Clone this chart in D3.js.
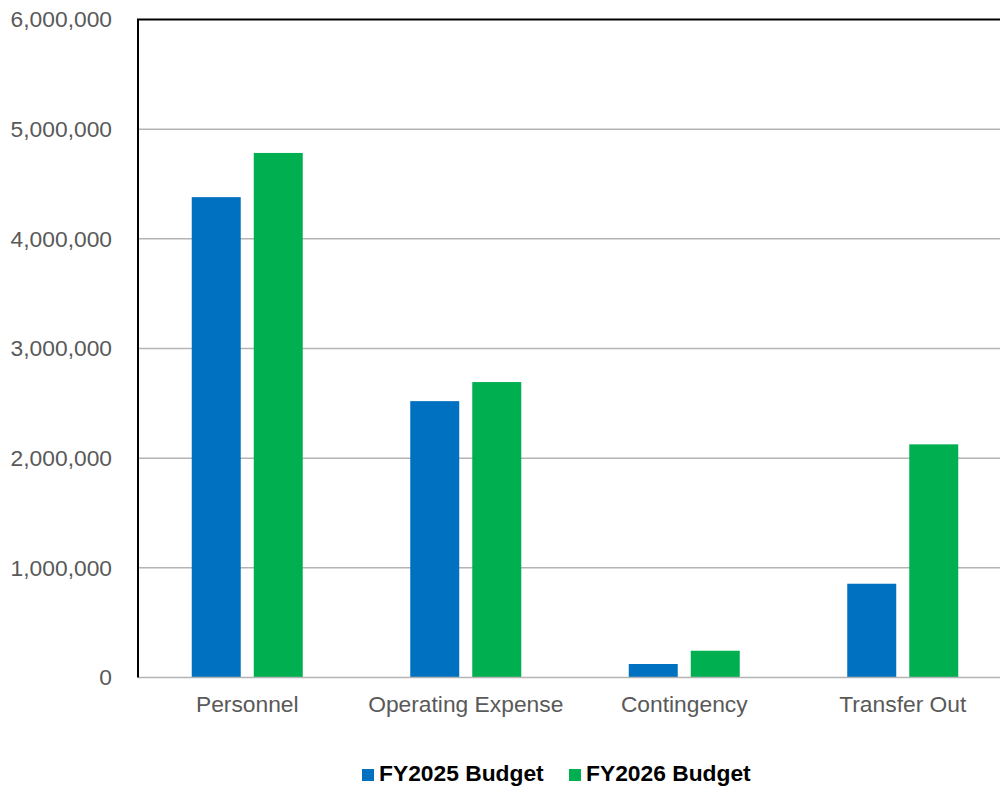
<!DOCTYPE html>
<html>
<head>
<meta charset="utf-8">
<script src="https://cdn.jsdelivr.net/npm/d3@7"></script>
<style>
  html, body { margin: 0; padding: 0; background: #fff; }
  svg { display: block; font-family: Arial, "Liberation Sans", sans-serif; }
</style>
</head>
<body>
<svg id="chart" width="1000" height="786"></svg>
<script>
// Budget by category, two fiscal years
const categories = ["Personnel", "Operating Expense", "Contingency", "Transfer Out"];
const seriesNames = ["FY2025 Budget", "FY2026 Budget"];
const fy2025 = [4380000, 2520000, 123000, 855000];
const fy2026 = [4783000, 2694000, 244000, 2126000];
const yTicks = [0, 1000000, 2000000, 3000000, 4000000, 5000000, 6000000];
const colors = ["#0070C0", "#00B050"];

const series = [fy2025, fy2026];
const FONT = 22.8;

const svg = d3.select("#chart");
const plot = { left: 138, right: 1012, top: 19.5, bottom: 677.5 };

const y = d3.scaleLinear().domain([0, 6000000]).range([plot.bottom, plot.top]);
const x0 = d3.scaleBand().domain(categories).range([plot.left, plot.right])
  .paddingInner(0.492).paddingOuter(0.246);
const x1 = d3.scaleBand().domain(d3.range(series.length)).range([0, x0.bandwidth()])
  .paddingInner(0.21).paddingOuter(0);

const fmt = d3.format(",");

// horizontal gridlines
svg.append("g")
  .selectAll("line")
  .data(yTicks.filter(t => t > 0 && t < 6000000))
  .join("line")
  .attr("x1", plot.left).attr("x2", 1000)
  .attr("y1", d => y(d)).attr("y2", d => y(d))
  .attr("stroke", "#b4b4b4").attr("stroke-width", 1.5);

// bars
const groups = svg.append("g")
  .selectAll("g")
  .data(categories)
  .join("g")
  .attr("transform", d => `translate(${x0(d)},0)`);

groups.selectAll("rect")
  .data((d, i) => series.map((s, k) => ({ k, v: s[i] })))
  .join("rect")
  .attr("x", d => x1(d.k))
  .attr("width", x1.bandwidth())
  .attr("y", d => y(d.v))
  .attr("height", d => y(0) - y(d.v))
  .attr("fill", d => colors[d.k]);

// category baseline
svg.append("line")
  .attr("x1", plot.left).attr("x2", 1000)
  .attr("y1", y(0)).attr("y2", y(0))
  .attr("stroke", "#b4b4b4").attr("stroke-width", 1.5);

// frame: left axis and top edge
svg.append("line")
  .attr("x1", plot.left).attr("x2", plot.left)
  .attr("y1", plot.top).attr("y2", plot.bottom)
  .attr("stroke", "#000").attr("stroke-width", 2);
svg.append("line")
  .attr("x1", plot.left - 1).attr("x2", 1000)
  .attr("y1", plot.top).attr("y2", plot.top)
  .attr("stroke", "#000").attr("stroke-width", 2);

// y-axis tick labels
const yAxis = d3.axisLeft(y).tickValues(yTicks).tickFormat(fmt).tickSize(0).tickPadding(26);
const ya = svg.append("g").attr("transform", `translate(${plot.left},0)`).call(yAxis);
ya.select(".domain").remove();
ya.selectAll("text")
  .attr("font-size", FONT).attr("fill", "#595959")
  .attr("font-family", "Arial, 'Liberation Sans', sans-serif");

// x-axis category labels
const xAxis = d3.axisBottom(x0).tickSize(0).tickPadding(0);
const xa = svg.append("g").attr("transform", `translate(0,${plot.bottom})`).call(xAxis);
xa.select(".domain").remove();
xa.selectAll("text")
  .attr("y", 34.5).attr("dy", null)
  .attr("font-size", FONT).attr("fill", "#595959")
  .attr("font-family", "Arial, 'Liberation Sans', sans-serif");

// legend
const legendX = [362, 569];
const legend = svg.append("g")
  .selectAll("g")
  .data(seriesNames)
  .join("g")
  .attr("transform", (d, i) => `translate(${legendX[i]},781)`);
legend.append("rect")
  .attr("x", 0).attr("y", -12).attr("width", 12).attr("height", 12)
  .attr("fill", (d, i) => colors[i]);
legend.append("text")
  .attr("x", 17).attr("y", 0)
  .attr("font-size", FONT).attr("font-weight", "bold").attr("fill", "#000")
  .text(d => d);
</script>
</body>
</html>
